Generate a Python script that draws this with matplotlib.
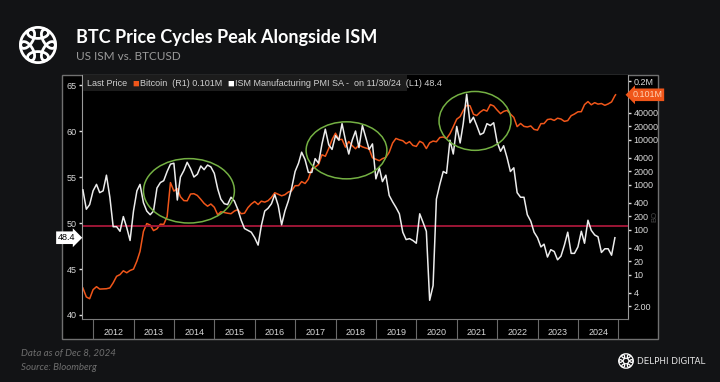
import numpy as np
import pandas as pd
import matplotlib
matplotlib.use("Agg")
import matplotlib.pyplot as plt
from matplotlib.patches import Ellipse, Rectangle

# monthly ISM Manufacturing PMI, Sep 2011 - Nov 2024 (month end)
ism = [53.6, 51.5, 52.0, 53.5,
       54.2, 53.3, 53.5, 55.2, 52.8, 49.6, 49.6, 49.1, 50.7, 49.5, 48.1, 51.3,
       53.5, 54.2, 52.2, 51.3, 50.9, 51.3, 53.8, 54.4, 54.6, 55.6, 56.4, 56.5,
       52.5, 55.0, 55.7, 56.6, 55.9, 55.0, 55.3, 56.2, 55.8, 56.3, 56.1, 55.4,
       53.7, 52.6, 52.1, 52.0, 52.8, 52.4, 51.5, 50.3, 49.4, 49.2, 49.0, 48.4,
       47.6, 49.7, 51.3, 51.6, 52.1, 53.1, 51.9, 49.8, 51.3, 52.4, 53.8, 55.6,
       56.5, 57.7, 56.9, 55.5, 55.5, 57.0, 56.5, 58.6, 60.2, 58.5, 58.0, 59.5,
       59.0, 60.8, 59.0, 57.5, 59.0, 60.0, 58.2, 60.6, 59.3, 58.0, 58.6, 54.8,
       56.0, 54.5, 55.2, 53.0, 52.3, 51.7, 51.0, 49.0, 48.2, 48.3, 48.1, 47.8,
       51.0, 50.1, 49.1, 41.6, 43.2, 52.6, 54.2, 55.6, 55.4, 59.0, 57.5, 60.5,
       58.7, 60.8, 64.0, 60.9, 61.5, 60.6, 59.6, 59.8, 60.8, 60.6, 60.9, 58.8,
       57.8, 58.4, 57.1, 55.6, 56.0, 53.3, 52.8, 52.8, 50.9, 50.2, 49.0, 48.4,
       47.4, 47.7, 46.3, 47.1, 46.9, 46.0, 46.4, 47.6, 49.0, 46.7, 46.7, 47.4,
       49.1, 47.8, 50.3, 49.2, 48.7, 48.5, 46.8, 47.2, 47.2, 46.5, 48.4]

# BTC month-end close, Sep 2011 - Nov 2024, plus last price (Dec 6 2024)
btc = [5.14, 3.25, 2.97, 4.72,
       5.5, 4.86, 4.9, 4.95, 5.16, 6.7, 9.35, 10.2, 12.4, 11.2, 12.6, 13.5,
       20.4, 33.4, 93.0, 139, 129, 97, 106, 135, 133, 198, 1130, 732,
       830, 550, 450, 445, 630, 640, 585, 480, 390, 338, 378, 320,
       217, 254, 244, 236, 230, 263, 284, 230, 236, 314, 377, 430,
       368, 437, 416, 448, 531, 673, 624, 575, 609, 698, 742, 964,
       970, 1190, 1080, 1350, 2300, 2480, 2875, 4700, 4340, 6470, 10200, 14150,
       10220, 10330, 6930, 9240, 7490, 6390, 7730, 7030, 6630, 6320, 4020, 3740,
       3460, 3850, 4100, 5320, 8560, 10820, 10080, 9630, 8290, 9200, 7570, 7190,
       9350, 8600, 6440, 8660, 9460, 9140, 11350, 11650, 10780, 13800, 19700, 29000,
       33100, 45200, 58900, 57700, 37300, 35000, 41600, 47100, 43800, 61300, 57000, 46300,
       38500, 43200, 45500, 37700, 31800, 19800, 23300, 20050, 19430, 20500, 17170, 16550,
       23100, 23150, 28480, 29250, 27220, 30480, 29230, 25930, 26970, 34670, 37720, 42270,
       42580, 61200, 71300, 60600, 67500, 62700, 64600, 59000, 63300, 70200, 96400, 101000]

years = list(range(2012, 2025))
left_ticks = [40, 45, 50, 55, 60, 65]
right_ticks = [2, 4, 10, 20, 40, 100, 200, 400, 1000, 2000, 4000, 10000, 20000, 40000, 200000]
right_labels = ["2.00", "4", "10", "20", "40", "100", "200", "400", "1000", "2000",
                "4000", "10000", "20000", "40000", "0.2M"]

# highlighted peak zones: (center year, center ISM, width yrs, height pts)
zones = [(2014.37, 53.5, 2.25, 7.0), (2018.27, 57.9, 2.0, 6.2), (2021.45, 61.1, 1.78, 6.4)]

ism_dates = pd.date_range("2011-09-30", "2024-11-30", freq="ME")
btc_dates = ism_dates.append(pd.DatetimeIndex(["2024-12-06"]))


def dec_year(d):
    return np.asarray(d.year + (d.dayofyear - 1) / np.where(d.is_leap_year, 366, 365))


W, H = 720, 382
BG = "#121315"


def fx(x):
    return x / W


def fy(y):
    return 1 - y / H


plt.rcParams["font.family"] = ["Liberation Sans Narrow", "Liberation Sans", "DejaVu Sans"]

fig = plt.figure(figsize=(W / 100, H / 100), dpi=100)
fig.patch.set_facecolor(BG)
renderer = fig.canvas.get_renderer()

# bloomberg panel
fig.add_artist(Rectangle((fx(62), fy(339)), (658 - 62) / W, (339 - 75) / H,
                         transform=fig.transFigure, facecolor="black",
                         edgecolor="#707070", lw=1.0, zorder=-1))

ax = fig.add_axes([fx(82), fy(319), (628 - 82) / W, (319 - 75) / H])
ax2 = ax.twinx()
ax.set_zorder(ax2.get_zorder() + 1)
ax.patch.set_visible(False)
ax2.patch.set_visible(True)
ax2.patch.set_facecolor("black")

ax2.plot(dec_year(btc_dates), btc, color="#f0561a", lw=1.1)
ax2.set_yscale("log")
ax2.set_ylim(1.052, 278000)
ax2.set_yticks(right_ticks)
ax2.set_yticklabels(right_labels)
ax2.yaxis.set_minor_locator(matplotlib.ticker.NullLocator())

ax.axhline(49.7, color="#a8183a", lw=1.3, zorder=1)
ax.plot(dec_year(ism_dates), ism, color="#ececec", lw=1.1, zorder=3)
for cx, cy, w, h in zones:
    ax.add_patch(Ellipse((cx, cy), w, h, fill=False, edgecolor="#74b043", lw=1.1, zorder=4))

ax.set_xlim(2011.723, 2025.237)
ax.set_ylim(39.565, 66.09)
ax.set_yticks(left_ticks)

ax.set_xticks(list(range(2012, 2026)))
ax.set_xticklabels([])
ax.set_xticks([y + 0.5 for y in years], minor=True)
ax.set_xticklabels([str(y) for y in years], minor=True)
ax.tick_params(axis="x", which="major", length=14.5, width=0.8, color="#6a6a6a", direction="out")
ax.tick_params(axis="x", which="minor", length=0, pad=6.5, labelsize=6.5, labelcolor="#d8d8d8")
ax.tick_params(axis="y", length=2.5, width=1, color="#e0e0e0", labelsize=6.5,
               labelcolor="#d8d8d8", pad=1.5)
ax2.tick_params(axis="y", length=2.5, width=1, color="#e0e0e0", labelsize=6.5,
                labelcolor="#d8d8d8", pad=1.5)

for s in ["top", "right"]:
    ax.spines[s].set_visible(False)
ax.spines["left"].set_color("#9a9a9a")
ax.spines["bottom"].set_color("#7a7a7a")
for s in ["top", "left", "bottom"]:
    ax2.spines[s].set_visible(False)
ax2.spines["right"].set_color("#9a9a9a")

# last value markers
ax.text(-0.012, ism[-1], f"{ism[-1]:.1f}", transform=ax.get_yaxis_transform(),
        ha="right", va="center", fontsize=6.5, color="black",
        bbox=dict(boxstyle="rarrow,pad=0.2", fc="white", ec="none"))
ax2.text(1.008, btc[-1], f"{btc[-1] / 1e6:.3f}M", transform=ax2.get_yaxis_transform(),
         ha="left", va="center", fontsize=6.5, color="#ffd2b5", zorder=10,
         bbox=dict(boxstyle="larrow,pad=0.2", fc="#f0561a", ec="none"))

# legend strip, pieces laid out one after another
fig.add_artist(Rectangle((fx(83), fy(91)), (407 - 83) / W, 16 / H,
                         transform=fig.transFigure, facecolor="#1c1c1c",
                         edgecolor="none", zorder=5))
leg_y = fy(83.5)
pieces = [("Last Price", "#d0d0d0", 5, 6.5), ("\u25a0", "#f0561a", 1, 8),
          ("Bitcoin  (R1) 0.101M", "#d0d0d0", 5, 6.5),
          ("\u25a0", "white", 1, 8),
          ("ISM Manufacturing PMI SA -  on 11/30/24  (L1) 48.4", "#d0d0d0", 0, 6.5)]
x_px = 87
for txt, col, gap, size in pieces:
    t = fig.text(fx(x_px), leg_y, txt, color=col, fontsize=size, va="center", zorder=6)
    x_px += t.get_window_extent(renderer).width + gap

fig.text(fx(654.5), fy(216), "BO", rotation=90, color="#4a4a4a", fontsize=5.5,
         va="center", ha="center")

# titles
fig.text(fx(76), fy(37), "BTC Price Cycles Peak Alongside ISM", color="white",
         fontsize=13, fontweight="bold", family="Lato", va="center")
fig.text(fx(76), fy(56), "US ISM vs. BTCUSD", color="#9a9a9a", fontsize=8.5,
         family="Lato", va="center")
fig.text(fx(21), fy(353), "Data as of Dec 8, 2024", color="#6e6e6e", fontsize=7,
         style="italic", family="Lato", va="center")
fig.text(fx(21), fy(367), "Source: Bloomberg", color="#6e6e6e", fontsize=7,
         style="italic", family="Lato", va="center")
fig.text(fx(637), fy(361), "DELPHI DIGITAL", color="#e8e8e8", fontsize=6.3,
         family="DejaVu Sans", va="center")


def draw_logo(cx, cy, r, lw):
    lax = fig.add_axes([fx(cx - r), fy(cy + r), 2 * r / W, 2 * r / H])
    lax.set_xlim(-1, 1)
    lax.set_ylim(-1, 1)
    lax.axis("off")
    for k in range(6):
        th = np.deg2rad(k * 60 + 30)
        lax.add_patch(Ellipse((0.55 * np.cos(th), 0.55 * np.sin(th)), 0.95, 0.5,
                              angle=np.rad2deg(th) + 90, fill=False,
                              edgecolor="white", lw=lw))


draw_logo(38, 45, 22, 2.0)
draw_logo(626, 361, 9, 0.9)

fig.savefig("out.png", dpi=100, facecolor=BG)
